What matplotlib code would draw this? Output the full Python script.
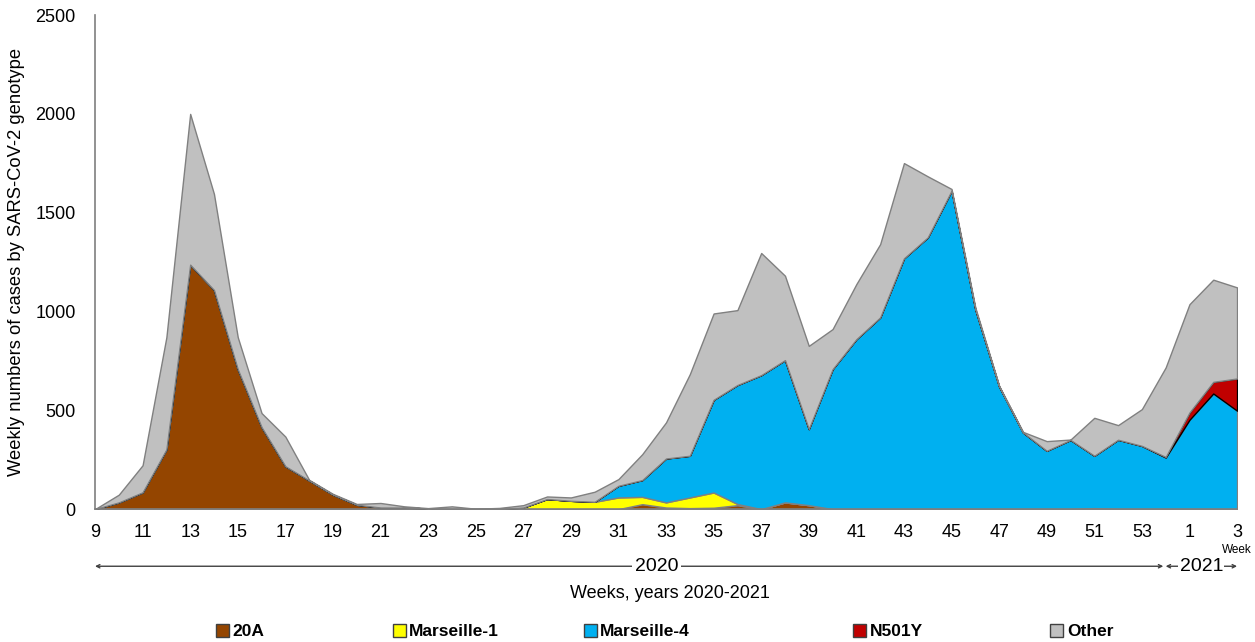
import numpy as np
import matplotlib
matplotlib.use("Agg")
import matplotlib.pyplot as plt
from matplotlib.patches import Patch
from matplotlib.transforms import blended_transform_factory

plt.rcParams['font.family'] = ['Liberation Sans', 'DejaVu Sans']

# weeks 9..53 of 2020, one extra 2020 point, then weeks 1..3 of 2021
weeks = [str(w) for w in range(9, 55)] + ['1', '2', '3']

a20 = [0, 34, 85, 302, 1237, 1109, 708, 415, 217, 145, 73, 22, 8, 8, 3, 0, 0, 0,
       0, 0, 0, 0, 0, 25, 8, 5, 7, 20, 0, 34, 20, 0, 0, 0, 0, 0, 0, 0, 0, 0,
       0, 0, 5, 0, 0, 0, 0, 0, 0]
marseille1 = [0, 0, 0, 0, 0, 0, 0, 0, 0, 0, 0, 0, 0, 0, 0, 0, 0, 0,
              8, 51, 42, 37, 59, 37, 26, 54, 77, 6, 0, 0, 0, 0, 0, 0, 0, 0,
              0, 0, 0, 0, 0, 0, 0, 0, 0, 0, 0, 0, 0]
marseille4 = [0, 0, 0, 0, 0, 0, 0, 0, 0, 0, 0, 0, 0, 0, 0, 0, 0, 0,
              0, 0, 0, 0, 59, 85, 222, 211, 469, 602, 678, 720, 385, 708, 860, 970,
              1269, 1375, 1611, 1010, 620, 388, 295, 350, 265, 351, 320, 261, 452, 585, 498]
n501y = [0] * 45 + [3, 37, 59, 163]
other = [0, 39, 137, 568, 763, 486, 162, 71, 150, 3, 4, 4, 23, 6, 2, 14, 2, 6,
         12, 13, 17, 51, 34, 131, 183, 413, 437, 379, 618, 427, 421, 203, 279, 371,
         482, 309, 9, 10, 4, 3, 49, 2, 192, 74, 186, 453, 548, 517, 461]

labels = ['20A', 'Marseille-1', 'Marseille-4', 'N501Y', 'Other']
colors = ['#944500', '#FFFF00', '#00B0F0', '#C00000', '#C0C0C0']

fig = plt.figure(figsize=(12.55, 6.42), dpi=100)
ax = fig.add_axes([0.0757, 0.207, 0.91, 0.7695])

x = np.arange(len(weeks))
polys = ax.stackplot(x, a20, marseille1, marseille4, n501y, other,
                     colors=colors, edgecolor='#808080', linewidth=1)
polys[3].set_edgecolor('black')

ax.set_xlim(0, len(weeks) - 1)
ax.set_ylim(0, 2500)
ax.set_yticks(range(0, 2501, 500))
ax.set_xticks(x[::2])
ax.set_xticklabels(weeks[::2])
ax.tick_params(length=0, labelsize=13)
ax.tick_params(axis='x', pad=11)
ax.tick_params(axis='y', pad=14)
for s in ['top', 'right']:
    ax.spines[s].set_visible(False)
for s in ['left', 'bottom']:
    ax.spines[s].set_color('#7f7f7f')
    ax.spines[s].set_linewidth(1.2)

ax.set_ylabel('Weekly numbers of cases by SARS-CoV-2 genotype', fontsize=13.2, labelpad=7)
fig.text(0.534, 0.075, 'Weeks, years 2020-2021', ha='center', va='center', fontsize=13)
ax.text(1.0, -0.082, 'Week', transform=ax.transAxes, ha='center', va='center', fontsize=8.5)

# year spans under the axis
tr = blended_transform_factory(ax.transData, fig.transFigure)
yr = 0.118
ax.annotate('', xy=(0, yr), xytext=(44.9, yr), xycoords=tr, textcoords=tr,
            arrowprops=dict(arrowstyle='<->', color='#404040', lw=1, mutation_scale=6,
                            shrinkA=0, shrinkB=0))
ax.annotate('', xy=(45.0, yr), xytext=(48, yr), xycoords=tr, textcoords=tr,
            arrowprops=dict(arrowstyle='<->', color='#404040', lw=1, mutation_scale=6,
                            shrinkA=0, shrinkB=0))
ax.text(23.6, yr, '2020', transform=tr, ha='center', va='center', fontsize=14,
        bbox=dict(facecolor='white', edgecolor='none', pad=2))
ax.text(46.5, yr, '2021', transform=tr, ha='center', va='center', fontsize=14,
        bbox=dict(facecolor='white', edgecolor='none', pad=1))

# legend entries placed like the original
leg_x = [0.172, 0.313, 0.465, 0.680, 0.837]
for lx, lab, col in zip(leg_x, labels, colors):
    fig.legend(handles=[Patch(facecolor=col, edgecolor='#404040', label=lab)],
               loc='center left', bbox_to_anchor=(lx, 0.016), frameon=False,
               prop={'weight': 'bold', 'size': 12.5}, handlelength=0.75, handleheight=0.75,
               handletextpad=0.2, borderaxespad=0, borderpad=0)

fig.savefig('out.png', dpi=100)
